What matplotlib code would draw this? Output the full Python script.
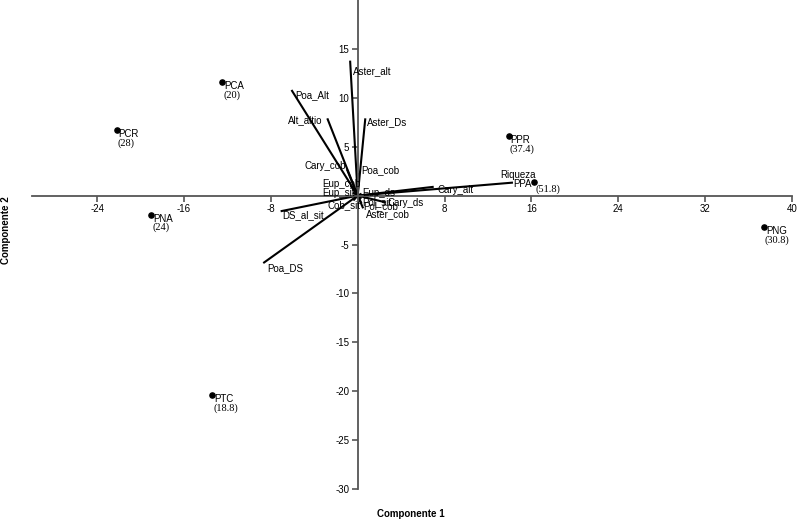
import numpy as np
import matplotlib
matplotlib.use('Agg')
import matplotlib.pyplot as plt

# sites (scores) with their value in brackets
site_names = ['PCA', 'PCR', 'PNA', 'PTC', 'PPR', 'PPA', 'PNG']
site_x = [-12.5, -22.2, -19.0, -13.4, 13.9, 16.2, 37.4]
site_y = [11.6, 6.7, -1.95, -20.4, 6.1, 1.35, -3.2]
site_vals = ['(20)', '(28)', '(24)', '(18.8)', '(37.4)', '(51.8)', '(30.8)']

# variable loadings
var_names = ['Aster_alt', 'Poa_Alt', 'Alt_altio', 'Aster_Ds', 'Cary_cob', 'Poa_cob',
             'Eup_cob', 'Eup_sit', 'Eup_ds', 'Cob_sit', 'Pol_sit', 'Pol_cob',
             'Cary_ds', 'Aster_cob', 'DS_al_sit', 'Poa_DS', 'Cary_alt', 'Riqueza']
var_x = [-0.7, -6.1, -2.8, 0.7, -1.0, 0.1, -0.65, -0.45, 0.35, -0.4, 0.35, 0.35,
         2.6, 0.5, -7.1, -8.7, 7.0, 14.3]
var_y = [13.8, 10.8, 7.9, 7.9, 2.7, 2.3, 1.0, 0.3, 0.2, -0.5, -0.3, -0.8,
         -0.7, -1.3, -1.6, -6.9, 0.9, 1.33]

x_ticks = [-24, -16, -8, 8, 16, 24, 32, 40]
y_ticks = [15, 10, 5, -5, -10, -15, -20, -25, -30]

plt.rcParams['font.family'] = ['Liberation Sans', 'DejaVu Sans']
plt.rcParams['axes.unicode_minus'] = False

fig = plt.figure(figsize=(8, 5.2), dpi=100)
ax = fig.add_axes([0.04, 0.0596, 0.95, 0.9404])
ax.set_xlim(-30, 40)
ax.set_ylim(-30, 20)

for s in ['top', 'right']:
    ax.spines[s].set_visible(False)
for s in ['bottom', 'left']:
    ax.spines[s].set_position(('data', 0))
    ax.spines[s].set_color('#555555')
    ax.spines[s].set_linewidth(1.3)

ax.set_xticks(x_ticks)
ax.set_yticks(y_ticks)
ax.tick_params(axis='both', colors='#555555', length=4, width=1.2, labelsize=7,
               labelcolor='black', pad=2)

# loadings as lines from the origin
label_off = [(3, -10, 'left'), (4, -5, 'left'), (-5, -2, 'right'), (2, -4, 'left'),
             (-1, 3, 'right'), (2, 3, 'left'), (-28, 2, 'left'), (-31, 0, 'left'),
             (1, 1, 'left'), (-26, -5, 'left'), (1, -4, 'left'), (2, -3, 'left'),
             (2, -1, 'left'), (3, -6, 'left'), (2, -4, 'left'), (4, -5, 'left'),
             (4, -3, 'left'), (5, 8, 'center')]
for name, x, y, (dx, dy, ha) in zip(var_names, var_x, var_y, label_off):
    ax.plot([0, x], [0, y], color='black', lw=1.5, solid_capstyle='butt')
    ax.annotate(name, (x, y), xytext=(dx, dy), textcoords='offset pixels',
                ha=ha, va='center', fontsize=7)

# sites
ax.scatter(site_x, site_y, s=14, color='black', zorder=3)
for name, x, y, val in zip(site_names, site_x, site_y, site_vals):
    if name == 'PPA':
        ax.annotate(name, (x, y), xytext=(-2, -2), textcoords='offset pixels',
                    ha='right', va='center', fontsize=7)
        ax.annotate(val, (x, y), xytext=(2, -7), textcoords='offset pixels',
                    ha='left', va='center', fontsize=7.5, family='Liberation Serif')
    else:
        ax.annotate(name, (x, y), xytext=(2, -4), textcoords='offset pixels',
                    ha='left', va='center', fontsize=7)
        ax.annotate(val, (x, y), xytext=(1, -13), textcoords='offset pixels',
                    ha='left', va='center', fontsize=7.5, family='Liberation Serif')

fig.text(0.514, 0.012, 'Componente 1', ha='center', va='center', fontsize=7, fontweight='bold')
fig.text(0.007, 0.558, 'Componente 2', ha='center', va='center', rotation=90,
         fontsize=7, fontweight='bold')

plt.savefig('out.png', dpi=100)
